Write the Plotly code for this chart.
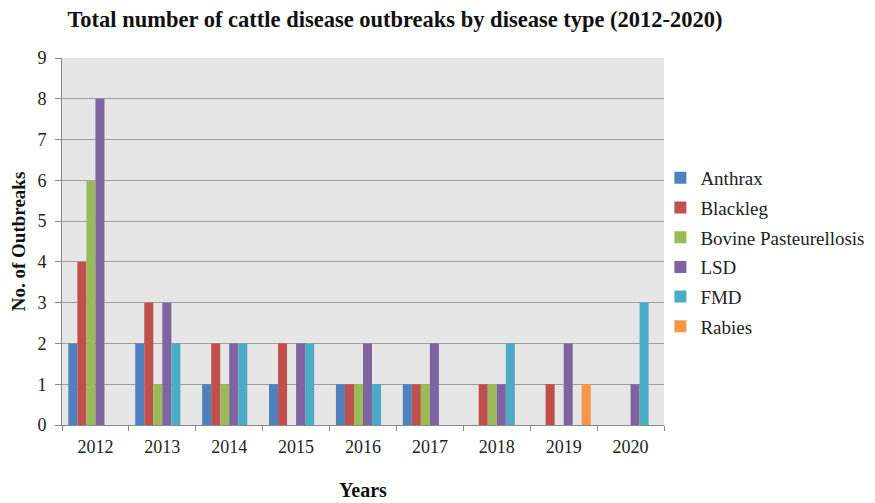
import plotly.graph_objects as go

years = ["2012", "2013", "2014", "2015", "2016", "2017", "2018", "2019", "2020"]
anthrax = [2, 2, 1, 1, 1, 1, 0, 0, 0]
blackleg = [4, 3, 2, 2, 1, 1, 1, 1, 0]
bovine_past = [6, 1, 1, 0, 1, 1, 1, 0, 0]
lsd = [8, 3, 2, 2, 2, 2, 1, 2, 1]
fmd = [0, 2, 2, 2, 1, 0, 2, 0, 3]
rabies = [0, 0, 0, 0, 0, 0, 0, 1, 0]

series = [
    ("Anthrax", anthrax, "#4F81BD"),
    ("Blackleg", blackleg, "#C0504D"),
    ("Bovine Pasteurellosis", bovine_past, "#9BBB59"),
    ("LSD", lsd, "#8064A2"),
    ("FMD", fmd, "#4BACC6"),
    ("Rabies", rabies, "#F79646"),
]

font_family = "Liberation Serif, Times New Roman, serif"

fig = go.Figure()
for name, vals, color in series:
    fig.add_trace(go.Bar(x=years, y=vals, name=name, legendgroup=name,
                         marker=dict(color=color, line=dict(width=0))))

fig.update_layout(
    width=875, height=503,
    barmode="group", bargap=0.19, bargroupgap=0,
    paper_bgcolor="white", plot_bgcolor="#E6E6E6",
    margin=dict(l=62, r=211, t=58, b=78, autoexpand=False),
    font=dict(family=font_family, size=18, color="#222"),
    title=dict(text="<b>Total number of cattle disease outbreaks by disease type (2012-2020)</b>",
               x=395 / 875, xanchor="center", y=0.962, yanchor="middle",
               font=dict(size=22.5, family=font_family, color="#111")),
    legend=dict(x=0.994, y=0.725, xanchor="left", yanchor="top",
                font=dict(size=19, family=font_family, color="#222"),
                bgcolor="rgba(0,0,0,0)", traceorder="grouped", tracegroupgap=2, itemwidth=30),
    showlegend=True,
)
fig.update_xaxes(
    type="category", showline=True, linecolor="#888", linewidth=1,
    ticks="outside", tickson="boundaries", ticklen=5, tickcolor="#888",
    showgrid=False, ticklabelstandoff=5,
    title=dict(text="<b>Years</b>", font=dict(size=20, family=font_family, color="#111"), standoff=27),
    tickfont=dict(size=18, family=font_family, color="#222"),
)
fig.update_yaxes(
    range=[0, 9], dtick=1, showline=True, linecolor="#888", linewidth=1,
    ticks="outside", ticklen=6, tickcolor="#888", ticklabelstandoff=5,
    showgrid=True, gridcolor="#9E9E9E", gridwidth=1, zeroline=False,
    title=dict(text="<b>No. of Outbreaks</b>", font=dict(size=19, family=font_family, color="#111"), standoff=6),
    tickfont=dict(size=18, family=font_family, color="#222"),
)

fig.write_html("out.html")
